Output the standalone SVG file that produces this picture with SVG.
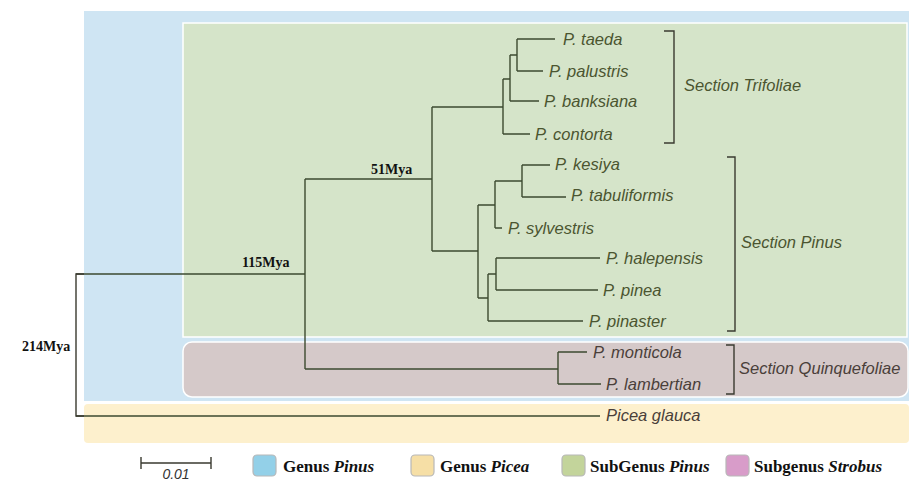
<svg xmlns="http://www.w3.org/2000/svg" width="909" height="481" viewBox="0 0 909 481">
<style>
.tree{fill:none;stroke:#3c4a30;stroke-width:1.4}
.br{fill:none;stroke:#3a3a30;stroke-width:1.4}
.sp{font-family:"Liberation Sans",Arial,sans-serif;font-style:italic;font-size:16.5px;fill:#4b5530}
.sq{fill:#4a3f3a}
.age{font-family:"Liberation Serif","Times New Roman",serif;font-weight:bold;font-size:14px;fill:#111}
.lg{font-family:"Liberation Serif","Times New Roman",serif;font-weight:bold;font-size:17px;fill:#111}
.sw{stroke:#b8b8b8;stroke-width:1.2}
</style>
<rect width="909" height="481" fill="#ffffff"/>
<g id="regions">
<rect x="84" y="11" width="825" height="390" fill="#cfe5f3"/>
<rect x="183" y="23" width="724" height="314" fill="#d5e4c9" stroke="#ffffff" stroke-width="1.5"/>
<rect x="183" y="342" width="725" height="55" rx="9" fill="#d5c9c9" stroke="#ffffff" stroke-width="1.5"/>
<rect x="84" y="404" width="825" height="39" rx="4" fill="#fdf0cd"/>
</g>
<g id="connectors">
<path class="tree" d="M76,274 H305 M76,416 H600 M305,179 V369 M305,179 H432 M432,107 V251 M432,107 H503 M503,79 V134 M503,79 H510 M510,55 V101 M510,55 H517 M517,39 V71 M517,39 H555 M517,71 H543 M510,101 H539 M503,134 H530 M432,251 H478 M478,205 V298 M478,205 H495 M495,181 V228 M495,181 H522 M522,165 V197 M522,165 H550 M522,197 H566 M495,228 H502 M478,298 H488 M488,274 V321 M488,274 H496 M496,258 V290 M496,258 H600 M496,290 H598 M488,321 H583 M305,369 H558 M558,352 V384 M558,352 H587 M558,384 H601"/>
<path class="br" d="M84,274 H76 V416 H84"/>
<path class="br" d="M664,31 H674 V143 H664 M727,157 H735 V331 H727 M726,345 H734 V394 H726"/>
<path class="br" d="M141,463 H211 M141,457 V469 M211,457 V469"/>
</g>
<g id="labels">
<text class="age" x="242" y="267">115Mya</text>
<text class="age" x="371" y="174">51Mya</text>
<text class="age" x="22" y="351">214Mya</text>
</g>
<g id="taxa">
<text class="sp" x="563" y="45">P. taeda</text>
<text class="sp" x="549" y="77">P. palustris</text>
<text class="sp" x="544" y="107">P. banksiana</text>
<text class="sp" x="535" y="140">P. contorta</text>
<text class="sp" x="555" y="170">P. kesiya</text>
<text class="sp" x="571" y="201">P. tabuliformis</text>
<text class="sp" x="508" y="234">P. sylvestris</text>
<text class="sp" x="606" y="264">P. halepensis</text>
<text class="sp" x="603" y="296">P. pinea</text>
<text class="sp" x="589" y="327">P. pinaster</text>
<text class="sp sq" x="593" y="358">P. monticola</text>
<text class="sp sq" x="606" y="390">P. lambertian</text>
<text class="sp sq" x="606" y="421">Picea glauca</text>
</g>
<g id="sections">
<text class="sp" x="684" y="91">Section Trifoliae</text>
<text class="sp" x="741" y="248">Section Pinus</text>
<text class="sp sq" x="739" y="374">Section Quinquefoliae</text>
</g>
<g id="scale">
<text class="sp" x="176" y="479" text-anchor="middle" style="font-size:14px;fill:#333">0.01</text>
</g>
<g id="legend">
<rect class="sw" x="253" y="455" width="23" height="21" rx="4" fill="#93d0e8"/>
<text class="lg" x="283" y="472">Genus <tspan font-style="italic">Pinus</tspan></text>
<rect class="sw" x="411" y="455" width="23" height="21" rx="4" fill="#f6dfa6"/>
<text class="lg" x="440" y="472">Genus <tspan font-style="italic">Picea</tspan></text>
<rect class="sw" x="562" y="455" width="23" height="21" rx="4" fill="#c3d49b"/>
<text class="lg" x="590" y="472">SubGenus <tspan font-style="italic">Pinus</tspan></text>
<rect class="sw" x="726" y="455" width="23" height="21" rx="4" fill="#d89cc9"/>
<text class="lg" x="754" y="472">Subgenus <tspan font-style="italic">Strobus</tspan></text>
</g>
</svg>
